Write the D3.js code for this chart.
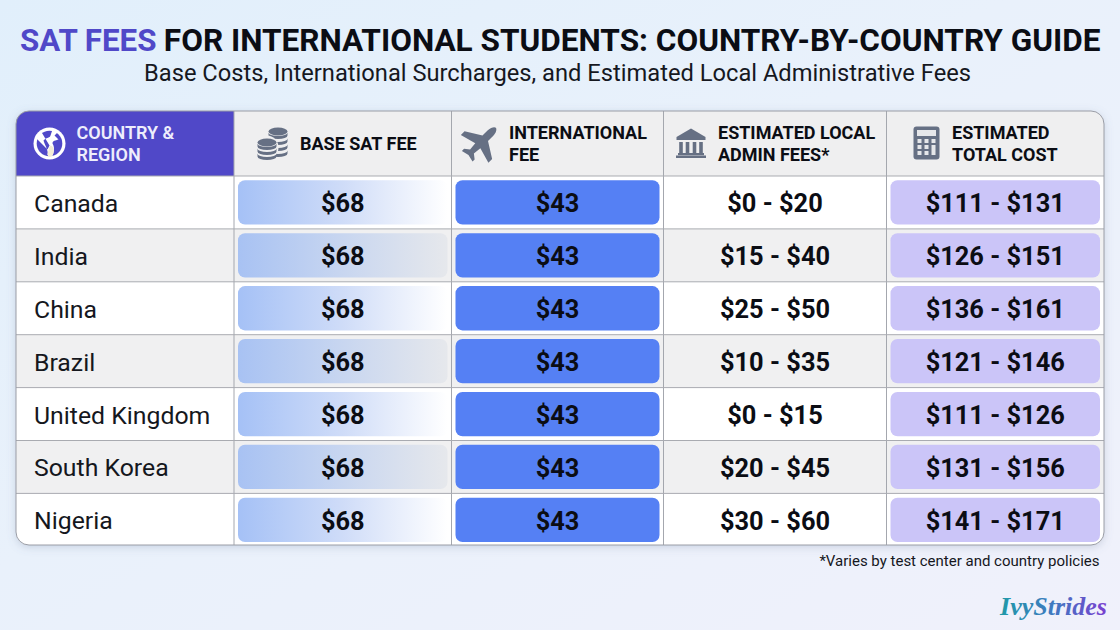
<!DOCTYPE html>
<html><head><meta charset="utf-8">
<script src="https://cdn.jsdelivr.net/npm/d3@7/dist/d3.min.js"></script>
<style>html,body{margin:0;padding:0;background:#eef2fb}svg{display:block}text{font-family:Roboto,sans-serif}</style>
</head><body><svg id="c" width="1120" height="630"></svg>
<script>
const countries=["Canada","India","China","Brazil","United Kingdom","South Korea","Nigeria"];
const baseFee=[68,68,68,68,68,68,68];
const intlFee=[43,43,43,43,43,43,43];
const localLow=[0,15,25,10,0,20,30];
const localHigh=[20,40,50,35,15,45,60];
const totalLow=[111,126,136,121,111,131,141];
const totalHigh=[131,151,161,146,126,156,171];
const headers=[["COUNTRY &","REGION"],["BASE SAT FEE"],["INTERNATIONAL","FEE"],["ESTIMATED LOCAL","ADMIN FEES*"],["ESTIMATED","TOTAL COST"]];
const colEdges=[16,234,451.5,663.5,886.5,1104];
const headerTextX=[76.5,300,509,718,952];

const svg=d3.select("#c");
const defs=svg.append("defs");
const bg=defs.append("linearGradient").attr("id","bg").attr("x1",0).attr("y1",0).attr("x2",1).attr("y2",1);
[["0%","#e1effb"],["45%","#e9f1fb"],["100%","#f0f1fb"]].forEach(s=>bg.append("stop").attr("offset",s[0]).attr("stop-color",s[1]));
const g1=defs.append("linearGradient").attr("id","baseG");
[["0%","#a5c1f6"],["50%","#cfdcf8"],["100%","#ffffff"]].forEach(s=>g1.append("stop").attr("offset",s[0]).attr("stop-color",s[1]));
const g2=defs.append("linearGradient").attr("id","baseG2");
[["0%","#a8c2f3"],["50%","#c8d6f0"],["100%","#e6e8ec"]].forEach(s=>g2.append("stop").attr("offset",s[0]).attr("stop-color",s[1]));
const wm=defs.append("linearGradient").attr("id","wm");
[["0%","#1f9aa8"],["50%","#3f79c0"],["100%","#7a3fd0"]].forEach(s=>wm.append("stop").attr("offset",s[0]).attr("stop-color",s[1]));
const sh=defs.append("filter").attr("id","sh").attr("x","-3%").attr("y","-5%").attr("width","106%").attr("height","110%");
sh.append("feDropShadow").attr("dx",0).attr("dy",2).attr("stdDeviation",4).attr("flood-color","#6a7a9a").attr("flood-opacity",.28);
defs.append("clipPath").attr("id","tbl").append("rect").attr("x",16).attr("y",111).attr("width",1088).attr("height",434).attr("rx",13);

svg.append("rect").attr("width",1120).attr("height",630).attr("fill","url(#bg)");

// title
svg.append("text").attr("x",20).attr("y",51).attr("font-size",31.3).attr("font-weight",700).attr("fill","#5048c8").text("SAT FEES");
svg.append("text").attr("x",1100.5).attr("y",51).attr("text-anchor","end").attr("font-size",31.55).attr("font-weight",700).attr("fill","#0b0d14").text("FOR INTERNATIONAL STUDENTS: COUNTRY-BY-COUNTRY GUIDE");
svg.append("text").attr("x",557.5).attr("y",81).attr("text-anchor","middle").attr("font-size",23.7).attr("fill","#16181f").text("Base Costs, International Surcharges, and Estimated Local Administrative Fees");

// table
const tableTop=111,headH=65,tableBottom=545;
const y=d3.scaleBand().domain(countries).range([tableTop+headH,546.3]);
svg.append("rect").attr("x",16).attr("y",tableTop).attr("width",1088).attr("height",tableBottom-tableTop).attr("rx",13).attr("fill","#fff").attr("filter","url(#sh)");
const t=svg.append("g").attr("clip-path","url(#tbl)");
t.append("rect").attr("x",16).attr("y",tableTop).attr("width",1088).attr("height",headH).attr("fill","#efeff0");
t.append("rect").attr("x",16).attr("y",tableTop).attr("width",218).attr("height",headH).attr("fill","#5048c8");
countries.forEach((c,i)=>{ t.append("rect").attr("x",16).attr("y",y(c)).attr("width",1088).attr("height",y.bandwidth()).attr("fill",i%2?"#f0f0f1":"#ffffff"); });

// grid
colEdges.slice(1,-1).forEach(x=>t.append("line").attr("x1",x).attr("x2",x).attr("y1",tableTop).attr("y2",tableBottom).attr("stroke","#a4a7ae").attr("stroke-width",1));
countries.forEach(c=>t.append("line").attr("x1",16).attr("x2",1104).attr("y1",y(c)).attr("y2",y(c)).attr("stroke","#a9abb1").attr("stroke-width",1));

// pills
const pad=4, vpad=4.3;
function pill(col,c,fill){
  return t.append("rect").attr("x",colEdges[col]+pad).attr("y",y(c)+vpad).attr("width",colEdges[col+1]-colEdges[col]-2*pad).attr("height",y.bandwidth()-2*vpad).attr("rx",7).attr("fill",fill);
}
function cellText(col,c,str){
  t.append("text").attr("x",(colEdges[col]+colEdges[col+1])/2).attr("y",y(c)+y.bandwidth()/2+10).attr("text-anchor","middle").attr("font-size",25.4).attr("font-weight",700).attr("fill","#0b0d14").text(str);
}
countries.forEach((c,i)=>{
  t.append("text").attr("x",34).attr("y",y(c)+y.bandwidth()/2+9.5).attr("font-size",24.8).attr("fill","#15171d").text(c);
  pill(1,c,i%2?"url(#baseG2)":"url(#baseG)");
  cellText(1,c,"$"+baseFee[i]);
  pill(2,c,"#5580f4");
  cellText(2,c,"$"+intlFee[i]);
  cellText(3,c,"$"+localLow[i]+" - $"+localHigh[i]);
  pill(4,c,"#cbc5f8");
  cellText(4,c,"$"+totalLow[i]+" - $"+totalHigh[i]);
});

// headers
headers.forEach((h,k)=>{
  const two=h.length===2;
  h.forEach((l,j)=>{
    t.append("text").attr("x",headerTextX[k]).attr("y",two?(139+j*22):150).attr("font-size",18).attr("font-weight",k===0?600:700).attr("fill",k===0?"#eeeefc":"#0b0d14").text(l);
  });
});

// icons
const ic="#667084";
const globe=svg.append("g").attr("transform","translate(49.5,143.5)");
globe.append("circle").attr("r",16).attr("fill","#fff");
globe.append("circle").attr("r",12.8).attr("fill","#5048c8");
globe.append("path").attr("fill","#fff").attr("d","M-9,-13 L-14,-6 L-2,6 L0,2 Z M-6,-3 C-2,-7 0,-5 1,-8 L3,-14 L8,-11 L5,-8 L9,-4 C6,-3 3,-3 3,0 C5,3 5,8 3,12 C1,14 -1,14 -2,11 C-1,7 -4,3 -6,-3 Z");
globe.append("path").attr("fill","#f3ecd6").attr("d","M1,2 C5,3 5,8 3,12 C1,14 -1,14 -2,11 C-1,7 -1,4 1,2 Z");
const coins=svg.append("g").attr("fill",ic).attr("transform","translate(273,143.5)");
for(let k=3;k>=0;k--) coins.append("path").attr("d",`M-4.5,${-11+k*6} v3 a9.5,3.6 0 0 0 19,0 v-3 a9.5,3.6 0 0 1 -19,0 Z`);
coins.append("ellipse").attr("cx",5).attr("cy",-12).attr("rx",9.5).attr("ry",4);
coins.append("ellipse").attr("cx",-6).attr("cy",4).attr("rx",11.5).attr("ry",12).attr("fill","#efeff0");
for(let k=2;k>=0;k--) coins.append("path").attr("d",`M-15.5,${0+k*5} v3 a9.5,3.6 0 0 0 19,0 v-3 a9.5,3.6 0 0 1 -19,0 Z`);
coins.append("ellipse").attr("cx",-6).attr("cy",-1).attr("rx",9.5).attr("ry",4);
svg.append("path").attr("fill",ic).attr("transform","translate(481,142.5) rotate(45) scale(1.5)")
  .attr("d","M-2.6,-9 C-2.6,-12 -1,-14 0,-14 C1,-14 2.6,-12 2.6,-9 L2.6,-4 L13,2.5 L13,6 L2.4,3 L1.8,8.5 L5,11 L5,13 L0,11.8 L-5,13 L-5,11 L-1.8,8.5 L-2.4,3 L-13,6 L-13,2.5 L-2.6,-4 Z");
const bank=svg.append("g").attr("fill",ic).attr("transform","translate(691,143)");
bank.append("path").attr("d","M-14.5,-6 L0,-14.5 L14.5,-6 L14.5,-3 L-14.5,-3 Z");
[-10,-3.5,3.5,10].forEach(x=>bank.append("rect").attr("x",x-1.8).attr("y",-1).attr("width",3.6).attr("height",11));
bank.append("rect").attr("x",-13).attr("y",10).attr("width",26).attr("height",2.2);
bank.append("rect").attr("x",-15).attr("y",12.5).attr("width",30).attr("height",2.5);
const calc=svg.append("g").attr("transform","translate(926.5,143)");
calc.append("rect").attr("x",-13).attr("y",-16.5).attr("width",26).attr("height",33).attr("rx",3).attr("fill",ic);
calc.append("rect").attr("x",-9.5).attr("y",-13).attr("width",19).attr("height",6).attr("fill","#e6e7ea");
[[-7,-2],[0,-2],[7,-2],[-7,4],[0,4],[-7,10],[0,10]].forEach(p=>calc.append("rect").attr("x",p[0]-2).attr("y",p[1]-2).attr("width",4).attr("height",4).attr("fill","#e6e7ea"));
calc.append("rect").attr("x",5).attr("y",2).attr("width",4).attr("height",10).attr("fill","#e6e7ea");

// table outline
svg.append("rect").attr("x",16).attr("y",tableTop).attr("width",1088).attr("height",tableBottom-tableTop).attr("rx",13).attr("fill","none").attr("stroke","#9a9da6").attr("stroke-width",1);

// footnote + mark
svg.append("text").attr("x",1099.5).attr("y",566).attr("text-anchor","end").attr("font-size",15).attr("fill","#15171d").text("*Varies by test center and country policies");
svg.append("text").attr("x",1107).attr("y",615).attr("text-anchor","end").attr("font-size",26).attr("font-weight",700).attr("font-style","italic").style("font-family","'Liberation Serif',serif").attr("fill","url(#wm)").text("IvyStrides");
</script></body></html>
